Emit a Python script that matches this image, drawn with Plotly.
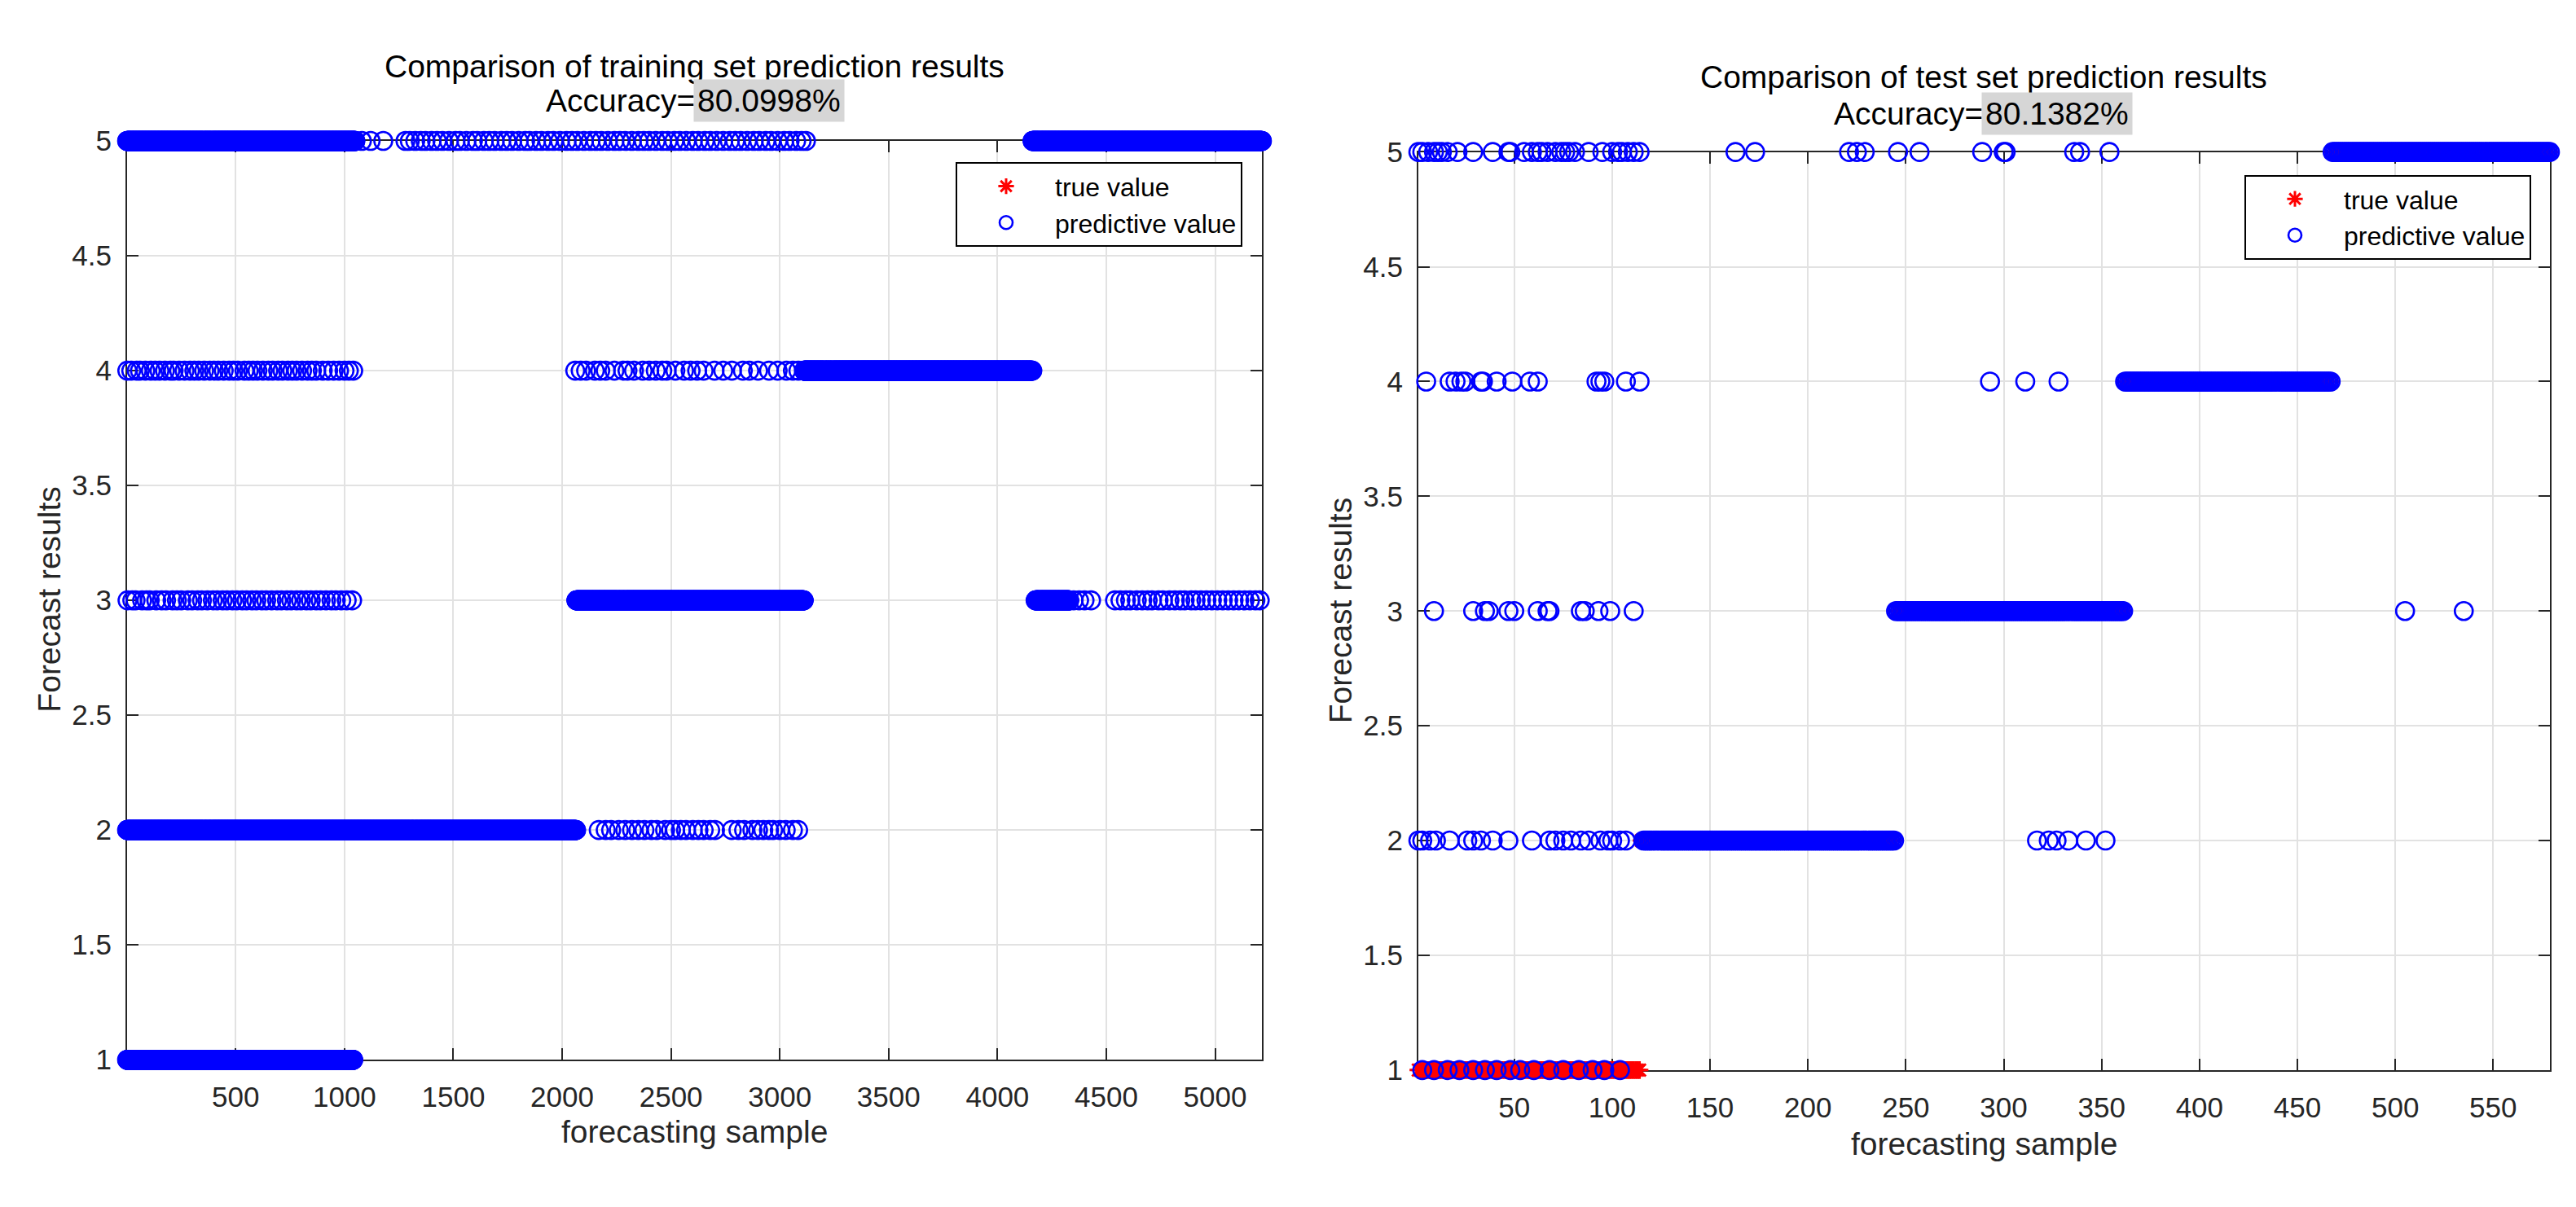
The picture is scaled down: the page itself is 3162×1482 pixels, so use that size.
import plotly.graph_objects as go

# ---- data ----

# training set: first sample index of true class 1..5
train_n = 5215
train_class_start = [1, 1046, 2065, 3111, 4161]

# predicted labels of the training set: continuous runs (first, last) and single samples
train_runs_1 = [(1, 1040)]
train_runs_2 = [(1, 2064)]
train_runs_3 = [(2065, 3110), (4175, 4330)]
train_runs_4 = [(3111, 4160)]
train_runs_5 = [(1, 1050), (4161, 5215)]

train_pts_2 = [2168, 2200, 2225, 2260, 2290, 2321, 2350, 2378, 2410, 2435, 2473, 2500,
               2519, 2545, 2569, 2600, 2626, 2650, 2680, 2702, 2779, 2810, 2836, 2874,
               2900, 2924, 2950, 2969, 3000, 3027, 3060, 3084]
train_pts_3 = [3, 25, 40, 70, 90, 105, 135, 160, 180, 210, 230, 250, 280, 300, 325, 345,
               370, 395, 415, 440, 460, 485, 505, 530, 550, 575, 595, 620, 640, 665, 690,
               710, 735, 755, 780, 800, 825, 845, 870, 890, 915, 940, 960, 985, 1010, 1035,
               4350, 4375, 4400, 4430, 4540, 4565, 4590, 4610, 4640, 4665, 4690, 4710,
               4740, 4760, 4790, 4815, 4840, 4860, 4890, 4910, 4935, 4960, 4985, 5010,
               5035, 5060, 5085, 5110, 5135, 5160, 5185, 5205]
train_pts_4 = [2, 20, 45, 60, 85, 110, 130, 150, 175, 200, 215, 240, 265, 290, 310, 330,
               355, 380, 400, 420, 445, 470, 490, 510, 540, 560, 580, 600, 625, 650, 670,
               695, 715, 740, 760, 780, 805, 830, 850, 870, 900, 925, 950, 975, 1000, 1020,
               1040, 2060, 2085, 2110, 2150, 2175, 2200, 2240, 2280, 2300, 2330, 2370,
               2400, 2430, 2460, 2480, 2520, 2560, 2590, 2620, 2650, 2700, 2740, 2780,
               2830, 2860, 2900, 2950, 2990, 3030, 3060, 3085]
train_pts_5 = [1080, 1120, 1178, 1280, 1300, 1325, 1350, 1372, 1400, 1425, 1450, 1480,
               1510, 1530, 1560, 1590, 1610, 1640, 1665, 1690, 1720, 1745, 1770, 1800,
               1830, 1850, 1880, 1905, 1935, 1960, 1990, 2020, 2045, 2070, 2100, 2130,
               2155, 2180, 2210, 2240, 2265, 2290, 2320, 2350, 2375, 2400, 2430, 2460,
               2485, 2515, 2540, 2570, 2600, 2625, 2655, 2680, 2710, 2740, 2770, 2795,
               2820, 2850, 2880, 2905, 2935, 2960, 2990, 3020, 3045, 3075, 3100, 3120]

# test set
test_n = 579
test_class_start = [1, 115, 245, 362, 468]

test_runs_2 = [(116, 244)]
test_runs_3 = [(245, 361)]
test_runs_4 = [(362, 467)]
test_runs_5 = [(468, 579)]

test_pts_1 = [3, 9, 16, 22, 29, 35, 41, 48, 53, 60, 68, 75, 83, 90, 96, 104]
test_pts_2 = [1, 3, 7, 10, 17, 26, 29, 33, 39, 47, 59, 68, 71, 75, 79, 84, 88, 94, 98,
              100, 104, 107, 317, 323, 327, 333, 342, 352]
test_pts_3 = [9, 29, 35, 37, 47, 50, 62, 67, 68, 84, 86, 93, 99, 111, 505, 535]
test_pts_4 = [5, 17, 20, 23, 25, 33, 34, 41, 49, 58, 62, 92, 94, 96, 107, 114, 293, 311, 328]
test_pts_5 = [1, 3, 6, 9, 11, 13, 16, 21, 29, 39, 47, 48, 55, 59, 62, 64, 67, 71, 74, 76,
              78, 81, 88, 95, 100, 103, 105, 108, 111, 114, 163, 173, 221, 225, 229, 246,
              257, 289, 300, 301, 336, 339, 354]

train_title = "Comparison of training set prediction results"
test_title = "Comparison of test set prediction results"
train_acc = "80.0998%"
test_acc = "80.1382%"

x_ticks_train = [500, 1000, 1500, 2000, 2500, 3000, 3500, 4000, 4500, 5000]
x_ticks_test = [50, 100, 150, 200, 250, 300, 350, 400, 450, 500, 550]
y_ticks = [1, 1.5, 2, 2.5, 3, 3.5, 4, 4.5, 5]


def true_labels(n, starts):
    xs = list(range(1, n + 1))
    ys = []
    for i in xs:
        label = 1
        for k, s in enumerate(starts):
            if i >= s:
                label = k + 1
        ys.append(label)
    return xs, ys


def predicted(rows):
    xs, ys = [], []
    for label, runs, pts in rows:
        for a, b in runs:
            for i in range(a, b + 1):
                xs.append(i)
                ys.append(label)
        for p in pts:
            xs.append(p)
            ys.append(label)
    return xs, ys


tr_x, tr_y = true_labels(train_n, train_class_start)
tp_x, tp_y = predicted([
    (1, train_runs_1, []),
    (2, train_runs_2, train_pts_2),
    (3, train_runs_3, train_pts_3),
    (4, train_runs_4, train_pts_4),
    (5, train_runs_5, train_pts_5),
])
te_x, te_y = true_labels(test_n, test_class_start)
ep_x, ep_y = predicted([
    (1, [], test_pts_1),
    (2, test_runs_2, test_pts_2),
    (3, test_runs_3, test_pts_3),
    (4, test_runs_4, test_pts_4),
    (5, test_runs_5, test_pts_5),
])

# ---- layout helpers (reference pixels -> paper coords) ----
W, H = 3146, 1466
OFF = 8  # default body margin of the page


def px(x):
    return (x - OFF) / W


def py(y):
    return 1 - (y - OFF) / H


FONT = "Liberation Sans, Arial, sans-serif"
AX = "#262626"
BLUE = "#0000ff"

star = dict(symbol="asterisk-open", size=18, color="red", line=dict(color="red", width=3))
ring = dict(symbol="circle-open", size=22, color=BLUE, line=dict(color=BLUE, width=2.6))

fig = go.Figure()
fig.add_trace(go.Scatter(x=tr_x, y=tr_y, mode="markers", name="true value", marker=star,
                         cliponaxis=False, xaxis="x", yaxis="y", legend="legend"))
fig.add_trace(go.Scatter(x=tp_x, y=tp_y, mode="markers", name="predictive value", marker=ring,
                         cliponaxis=False, xaxis="x", yaxis="y", legend="legend"))
fig.add_trace(go.Scatter(x=te_x, y=te_y, mode="markers", name="true value", marker=star,
                         cliponaxis=False, xaxis="x2", yaxis="y2", legend="legend2"))
fig.add_trace(go.Scatter(x=ep_x, y=ep_y, mode="markers", name="predictive value", marker=ring,
                         cliponaxis=False, xaxis="x2", yaxis="y2", legend="legend2"))

axis_style = dict(showline=True, linecolor=AX, linewidth=2, mirror="ticks",
                  ticks="inside", ticklen=14, tickwidth=2, tickcolor=AX,
                  showgrid=True, gridcolor="#e2e2e2", gridwidth=2, zeroline=False,
                  layer="below traces",
                  tickfont=dict(family=FONT, size=35, color=AX))

legend_style = dict(xanchor="right", yanchor="top", bgcolor="white",
                    bordercolor="#000000", borderwidth=2,
                    font=dict(family=FONT, size=32, color="#000000"),
                    itemwidth=110, tracegroupgap=0)

fig.update_layout(
    width=W, height=H,
    margin=dict(l=0, r=0, t=0, b=0),
    paper_bgcolor="white", plot_bgcolor="white",
    font=dict(family=FONT, size=36, color=AX),
    xaxis=dict(domain=[px(156), px(1549)], range=[1, train_n], tickvals=x_ticks_train,
               anchor="y", ticklabelstandoff=14, **axis_style),
    yaxis=dict(domain=[py(1316), py(157)], range=[1, 5], tickvals=y_ticks,
               ticktext=[f"{v:g}" for v in y_ticks], anchor="x",
               ticklabelstandoff=10, **axis_style),
    xaxis2=dict(domain=[px(1741), px(3130)], range=[1, test_n], tickvals=x_ticks_test,
                anchor="y2", ticklabelstandoff=14, **axis_style),
    yaxis2=dict(domain=[py(1329), py(171)], range=[1, 5], tickvals=y_ticks,
                ticktext=[f"{v:g}" for v in y_ticks], anchor="x2",
                ticklabelstandoff=10, **axis_style),
    legend=dict(x=px(1525), y=py(184), **legend_style),
    legend2=dict(x=px(3107), y=py(200), **legend_style),
)

ann = []
for cx, y1, y2, split, title, acc in [(852, 63, 106, 851, train_title, train_acc),
                                      (2435, 76, 123, 2432, test_title, test_acc)]:
    ann.append(dict(x=px(cx), y=py(y1), text=title, showarrow=False,
                    xanchor="center", yanchor="middle",
                    font=dict(family=FONT, size=39, color="#000000")))
    ann.append(dict(x=px(split + 3), y=py(y2), text="Accuracy=", showarrow=False,
                    xanchor="right", yanchor="middle", borderpad=0,
                    font=dict(family=FONT, size=39, color="#000000")))
    ann.append(dict(x=px(split), y=py(y2), text=acc, showarrow=False,
                    xanchor="left", yanchor="middle", bgcolor="#d6d6d6", borderpad=4,
                    font=dict(family=FONT, size=39, color="#000000")))

for cx, cy in [(852, 1407), (2435, 1422)]:
    ann.append(dict(x=px(cx), y=py(cy), text="forecasting sample", showarrow=False,
                    xanchor="center", yanchor="middle",
                    font=dict(family=FONT, size=39, color=AX)))
for cx, cy in [(61, 736), (1645, 750)]:
    ann.append(dict(x=px(cx), y=py(cy), text="Forecast results", showarrow=False,
                    textangle=-90, xanchor="center", yanchor="middle",
                    font=dict(family=FONT, size=39, color=AX)))

for a in ann:
    a["xref"] = "paper"
    a["yref"] = "paper"
fig.update_layout(annotations=ann)

fig.write_html("out.html")
